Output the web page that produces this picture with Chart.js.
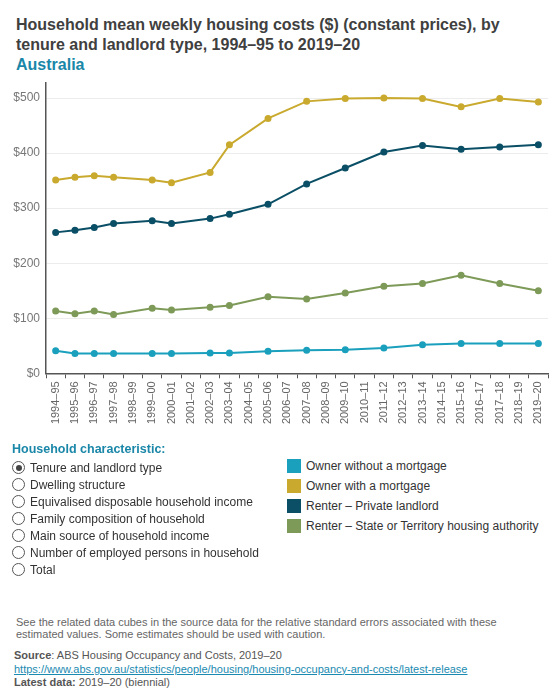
<!DOCTYPE html>
<html lang="en">
<head>
<meta charset="UTF-8">
<script src="https://cdn.jsdelivr.net/npm/chart.js@4.4.0/dist/chart.umd.min.js"></script>
<style>
    body { margin: 0; width: 560px; height: 700px; background: #fff; font-family: "Liberation Sans", Arial, sans-serif; position: relative; overflow: hidden; }
    .title { position: absolute; left: 16px; top: 15px; font-size: 16px; font-weight: bold; color: #404040; line-height: 20px; }
    .title .geo { color: #1a87a8; }
    .chart-box { position: absolute; left: 0; top: 70px; width: 560px; height: 378px; }
    .controls { position: absolute; left: 12px; top: 442px; font-size: 12px; color: #333; }
    .controls .head { color: #1a87a8; font-weight: bold; font-size: 12.5px; margin-bottom: 3px; }
    .radio { height: 17px; display: flex; align-items: center; }
    .radio span.c { width: 13px; height: 13px; border: 1px solid #555; border-radius: 50%; margin-right: 5px; position: relative; box-sizing: border-box; }
    .radio span.c.on::after { content: ""; position: absolute; left: 2.5px; top: 2.5px; width: 6px; height: 6px; border-radius: 50%; background: #444; }
    .legend { position: absolute; left: 287px; top: 459px; font-size: 12px; color: #333; }
    .legend div { height: 20px; display: flex; align-items: flex-start; }
    .legend i { width: 14px; height: 14px; margin-right: 5px; display: inline-block; }
    .foot { position: absolute; left: 16px; top: 616px; font-size: 11px; color: #666; line-height: 12px; width: 520px; }
    .src { position: absolute; left: 14px; top: 649px; font-size: 11px; color: #555; line-height: 13.5px; }
    .src a { color: #1a8ab0; }
</style>
</head>
<body>
    <div class="title">Household mean weekly housing costs ($) (constant prices), by<br>tenure and landlord type, 1994–95 to 2019–20<br><span class="geo">Australia</span></div>
    <div class="chart-box"><canvas id="chart" width="560" height="378"></canvas></div>

    <div class="controls">
        <div class="head">Household characteristic:</div>
        <div class="radio"><span class="c on"></span>Tenure and landlord type</div>
        <div class="radio"><span class="c"></span>Dwelling structure</div>
        <div class="radio"><span class="c"></span>Equivalised disposable household income</div>
        <div class="radio"><span class="c"></span>Family composition of household</div>
        <div class="radio"><span class="c"></span>Main source of household income</div>
        <div class="radio"><span class="c"></span>Number of employed persons in household</div>
        <div class="radio"><span class="c"></span>Total</div>
    </div>
    <div class="legend" id="legend"></div>

    <div class="foot">See the related data cubes in the source data for the relative standard errors associated with these estimated values. Some estimates should be used with caution.</div>
    <div class="src"><b>Source</b>: ABS Housing Occupancy and Costs, 2019–20<br><a href="#">https://www.abs.gov.au/statistics/people/housing/housing-occupancy-and-costs/latest-release</a><br><b>Latest data:</b> 2019–20 (biennial)</div>

    <script>
        const years = ['1994–95', '1995–96', '1996–97', '1997–98', '1998–99', '1999–00', '2000–01', '2001–02',
            '2002–03', '2003–04', '2004–05', '2005–06', '2006–07', '2007–08', '2008–09', '2009–10', '2010–11',
            '2011–12', '2012–13', '2013–14', '2014–15', '2015–16', '2016–17', '2017–18', '2018–19', '2019–20'];

        // null = no survey that year
        const ownerNoMortgage = [41, 36, 36, 36, null, 36, 36, null, 37, 37, null, 40, null, 42, null, 43, null, 46, null, 52, null, 54, null, 54, null, 54];
        const ownerMortgage = [351, 356, 359, 356, null, 351, 346, null, 365, 415, null, 463, null, 494, null, 499, null, 500, null, 499, null, 484, null, 499, null, 493];
        const renterPrivate = [256, 260, 265, 272, null, 277, 272, null, 281, 289, null, 307, null, 344, null, 373, null, 402, null, 414, null, 407, null, 411, null, 415];
        const renterState = [113, 108, 113, 107, null, 118, 115, null, 120, 123, null, 139, null, 135, null, 146, null, 158, null, 163, null, 178, null, 163, null, 150];

        const seriesNames = ['Owner without a mortgage', 'Owner with a mortgage', 'Renter – Private landlord', 'Renter – State or Territory housing authority'];
        const seriesData = [ownerNoMortgage, ownerMortgage, renterPrivate, renterState];
        const colors = ['#1aa0bd', '#c9aa2e', '#0a4f66', '#7e9a58'];
        const yTicks = [0, 100, 200, 300, 400, 500];

        document.getElementById('legend').innerHTML = seriesNames.map((n, i) =>
            '<div><i style="background:' + colors[i] + '"></i>' + n + '</div>').join('');

        const ctx = document.getElementById('chart').getContext('2d');
        Chart.defaults.font.family = '"Liberation Sans", Arial, sans-serif';

        new Chart(ctx, {
            type: 'line',
            data: {
                labels: years,
                datasets: seriesData.map((d, i) => ({
                    label: seriesNames[i],
                    data: d,
                    borderColor: colors[i],
                    backgroundColor: colors[i],
                    borderWidth: 2,
                    pointRadius: 2.5,
                    pointHoverRadius: 3,
                    spanGaps: true,
                    tension: 0
                }))
            },
            options: {
                responsive: false,
                animation: false,
                layout: { padding: { top: 5, right: 12, left: 0, bottom: 0 } },
                plugins: { legend: { display: false }, tooltip: { enabled: false } },
                scales: {
                    x: {
                        offset: true,
                        grid: { offset: true, drawOnChartArea: false, tickLength: 5, color: '#555' },
                        border: { color: '#555', width: 1.5 },
                        ticks: { color: '#666', font: { size: 11 }, maxRotation: 90, minRotation: 90, autoSkip: false, padding: 3 },
                        afterFit: s => { s.height = 74.7; }
                    },
                    y: {
                        min: 0,
                        max: 527,
                        afterBuildTicks: s => { s.ticks = yTicks.map(v => ({ value: v })); },
                        grid: { color: '#ececec', tickLength: 0 },
                        border: { color: '#555', width: 1.5 },
                        ticks: { color: '#777', font: { size: 12 }, padding: 6, callback: v => '$' + v },
                        afterFit: s => { s.width = 46; }
                    }
                }
            }
        });
    </script>
</body>
</html>
